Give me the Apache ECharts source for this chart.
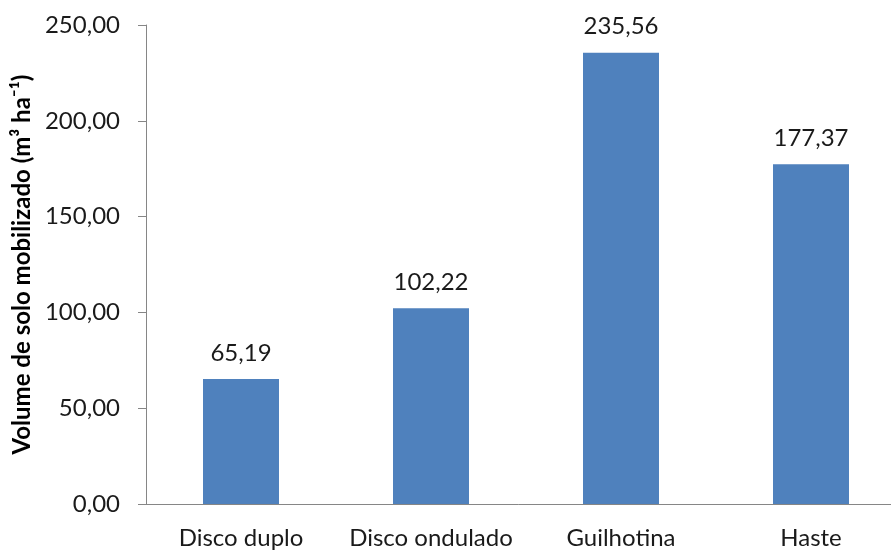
<!DOCTYPE html>
<html>
<head>
<meta charset="utf-8">
<script src="https://cdn.jsdelivr.net/npm/echarts@6/dist/echarts.min.js"></script>
<style>
html,body{margin:0;padding:0;background:#fff;}
#chart{width:891px;height:550px;}
</style>
</head>
<body>
<div id="chart"></div>
<script>
// Soil volume mobilized per furrow opener type
const categories = ['Disco duplo', 'Disco ondulado', 'Guilhotina', 'Haste'];
const volumes = [65.19, 102.22, 235.56, 177.37];
const yTicks = [0, 50, 100, 150, 200, 250];

const fmt = v => v.toFixed(2).replace('.', ',');
const font = 'Lato, "Open Sans", sans-serif';

const chart = echarts.init(document.getElementById('chart'), null, { renderer: 'canvas' });
chart.setOption({
  animation: false,
  grid: {
    left: 146, width: 760, top: 25, height: 479,
    containLabel: false, outerBoundsMode: 'none'
  },
  xAxis: {
    type: 'category',
    data: categories,
    axisLine: { lineStyle: { color: '#868686', width: 1 } },
    axisTick: { show: false },
    axisLabel: { color: '#1a1a1a', fontSize: 24, fontFamily: font, margin: 22, interval: 0, hideOverlap: false }
  },
  yAxis: {
    type: 'value',
    min: yTicks[0],
    max: yTicks[yTicks.length - 1],
    interval: 50,
    name: 'Volume de solo mobilizado (m³ ha⁻¹)',
    nameLocation: 'middle',
    nameGap: 110,
    nameTextStyle: { color: '#000', fontSize: 24, fontWeight: 'bold', fontFamily: font },
    axisLine: { show: true, lineStyle: { color: '#868686', width: 1 } },
    axisTick: { show: true, length: 8, lineStyle: { color: '#868686' } },
    splitLine: { show: false },
    axisLabel: { color: '#1a1a1a', fontSize: 24, fontFamily: font, margin: 26, formatter: fmt }
  },
  series: [{
    type: 'bar',
    data: volumes,
    barWidth: '40%',
    itemStyle: { color: '#4F81BD' },
    label: {
      show: true,
      position: 'top',
      distance: 14,
      color: '#1a1a1a',
      fontSize: 24,
      fontFamily: font,
      formatter: p => fmt(p.value)
    }
  }]
});
</script>
</body>
</html>
